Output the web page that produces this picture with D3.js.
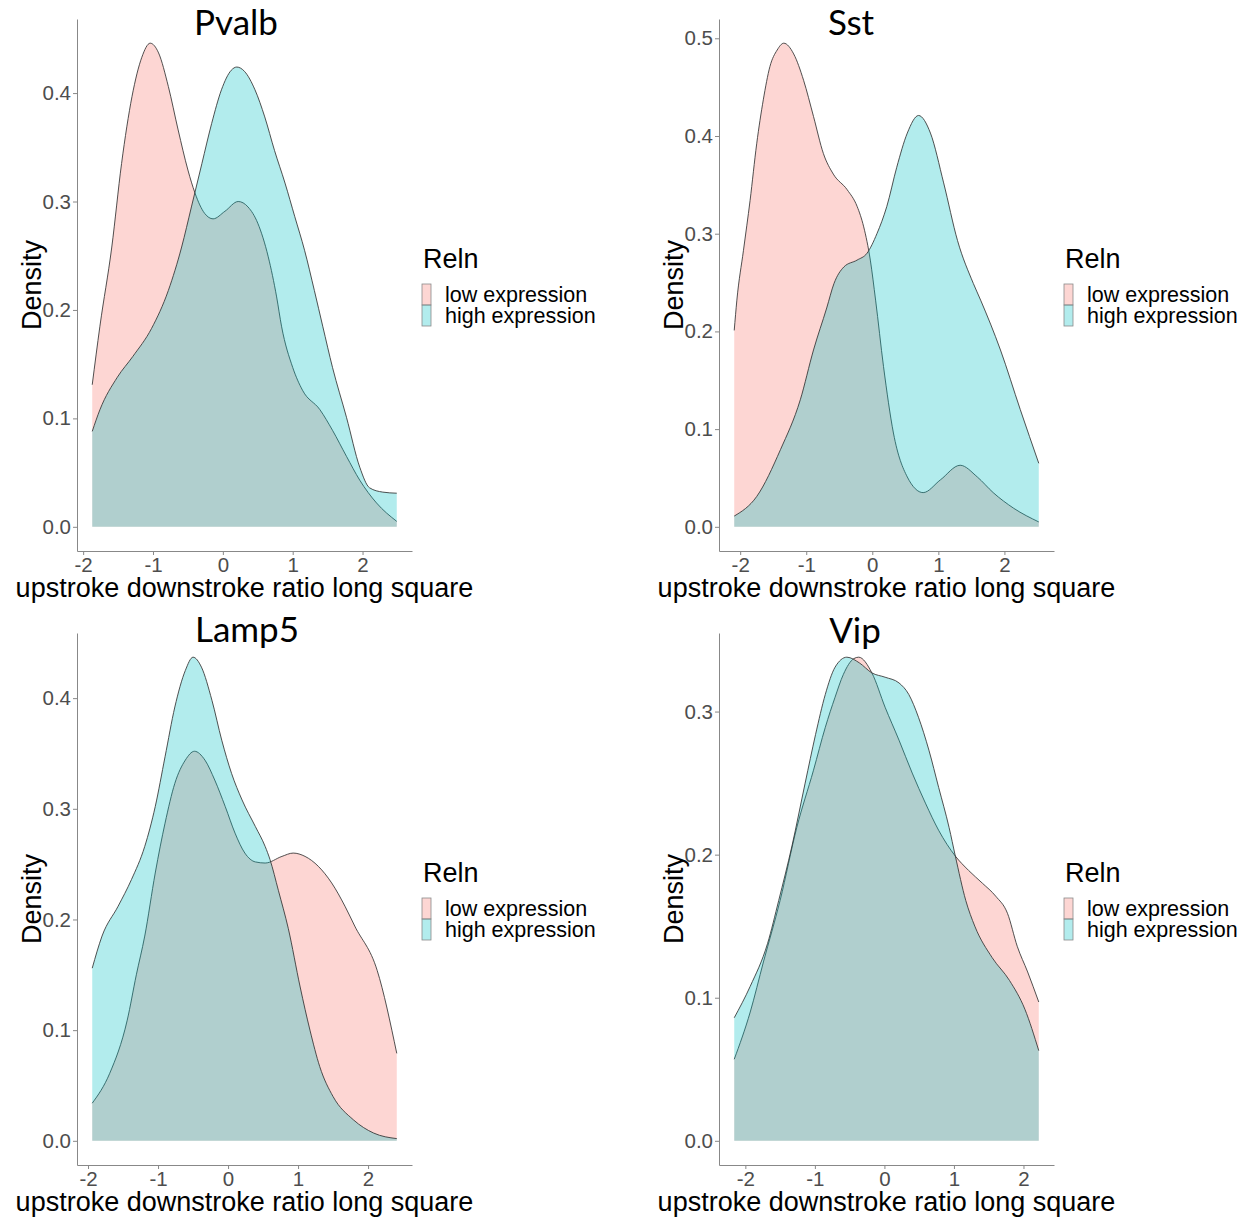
<!DOCTYPE html>
<html>
<head>
<meta charset="utf-8">
<script src="https://cdn.jsdelivr.net/npm/d3@7"></script>
<style>
    body { margin: 0; background: #fff; }
    svg text { font-family: "Liberation Sans", Arial, sans-serif; }
    .panel-title { font-family: Lato, sans-serif; }
</style>
</head>
<body>
<svg id="chart" width="1247" height="1217"></svg>
<script>
// panels and groups
var panels = ["Pvalb", "Sst", "Lamp5", "Vip"];
var groups = ["low expression", "high expression"];
var legendTitle = "Reln";
var xLabel = "upstroke downstroke ratio long square";
var yLabel = "Density";

// tick labels
var xTicks = [-2, -1, 0, 1, 2];
var pvalbYTicks = [0, 0.1, 0.2, 0.3, 0.4];
var sstYTicks = [0, 0.1, 0.2, 0.3, 0.4, 0.5];
var lamp5YTicks = [0, 0.1, 0.2, 0.3, 0.4];
var vipYTicks = [0, 0.1, 0.2, 0.3];

// density curves: [x, density]
var pvalbLow = [[-1.87,0.131],[-1.76,0.185],[-1.59,0.258],[-1.45,0.335],[-1.30,0.397],[-1.16,0.433],[-1.04,0.446],[-0.92,0.437],[-0.78,0.406],[-0.64,0.366],[-0.50,0.329],[-0.40,0.308],[-0.26,0.289],[-0.14,0.284],[0.03,0.291],[0.22,0.300],[0.36,0.295],[0.50,0.280],[0.65,0.249],[0.77,0.212],[0.84,0.185],[1.00,0.147],[1.14,0.126],[1.39,0.108],[1.57,0.089],[1.77,0.065],[1.96,0.043],[2.20,0.022],[2.49,0.005]];
var pvalbHigh = [[-1.87,0.088],[-1.76,0.108],[-1.51,0.138],[-1.29,0.157],[-1.02,0.183],[-0.78,0.218],[-0.59,0.258],[-0.45,0.295],[-0.30,0.335],[-0.16,0.372],[-0.02,0.403],[0.12,0.421],[0.20,0.424],[0.31,0.420],[0.46,0.403],[0.60,0.378],[0.74,0.347],[0.89,0.317],[1.03,0.286],[1.17,0.255],[1.31,0.218],[1.43,0.185],[1.57,0.147],[1.77,0.101],[1.96,0.055],[2.10,0.036],[2.29,0.032],[2.49,0.031]];

var sstLow = [[-2.09,0.201],[-2.05,0.232],[-1.95,0.283],[-1.85,0.334],[-1.75,0.392],[-1.65,0.437],[-1.55,0.471],[-1.44,0.488],[-1.34,0.495],[-1.19,0.484],[-1.04,0.457],[-0.89,0.420],[-0.74,0.382],[-0.59,0.361],[-0.38,0.345],[-0.23,0.328],[-0.13,0.307],[-0.03,0.273],[0.05,0.232],[0.17,0.164],[0.32,0.096],[0.53,0.051],[0.77,0.035],[1.03,0.048],[1.33,0.063],[1.59,0.051],[1.83,0.035],[2.14,0.019],[2.52,0.005]];
var sstHigh = [[-2.09,0.011],[-1.75,0.031],[-1.39,0.079],[-1.09,0.130],[-0.89,0.181],[-0.69,0.224],[-0.58,0.249],[-0.43,0.266],[-0.23,0.273],[-0.08,0.280],[0.07,0.300],[0.22,0.328],[0.37,0.368],[0.53,0.403],[0.70,0.421],[0.88,0.403],[1.08,0.352],[1.29,0.293],[1.53,0.249],[1.64,0.232],[1.94,0.181],[2.24,0.120],[2.52,0.065]];

var lamp5Low = [[-1.94,0.034],[-1.69,0.061],[-1.44,0.109],[-1.31,0.150],[-1.19,0.185],[-1.04,0.242],[-0.90,0.287],[-0.76,0.323],[-0.61,0.344],[-0.48,0.352],[-0.33,0.344],[-0.19,0.326],[-0.04,0.302],[0.10,0.278],[0.24,0.260],[0.39,0.252],[0.53,0.251],[0.77,0.257],[0.93,0.260],[1.10,0.257],[1.29,0.248],[1.48,0.233],[1.67,0.212],[1.81,0.194],[2.13,0.154],[2.41,0.079]];
var lamp5High = [[-1.94,0.156],[-1.80,0.185],[-1.57,0.212],[-1.38,0.236],[-1.19,0.266],[-1.04,0.302],[-0.90,0.347],[-0.76,0.392],[-0.61,0.425],[-0.50,0.437],[-0.38,0.428],[-0.23,0.398],[-0.09,0.362],[0.05,0.332],[0.20,0.308],[0.39,0.284],[0.53,0.266],[0.60,0.254],[0.72,0.226],[0.86,0.192],[1.03,0.139],[1.17,0.100],[1.31,0.067],[1.50,0.040],[1.79,0.019],[2.08,0.007],[2.41,0.002]];

var vipLow = [[-2.16,0.057],[-1.93,0.090],[-1.74,0.125],[-1.50,0.168],[-1.26,0.219],[-1.02,0.259],[-0.85,0.289],[-0.71,0.310],[-0.59,0.326],[-0.44,0.337],[-0.37,0.338],[-0.18,0.327],[0.01,0.303],[0.21,0.280],[0.40,0.257],[0.59,0.236],[0.78,0.217],[1.02,0.199],[1.21,0.189],[1.41,0.180],[1.60,0.171],[1.77,0.159],[1.91,0.136],[2.06,0.118],[2.22,0.097]];
var vipHigh = [[-2.16,0.086],[-1.93,0.108],[-1.68,0.138],[-1.52,0.168],[-1.33,0.206],[-1.14,0.250],[-0.99,0.284],[-0.85,0.312],[-0.71,0.331],[-0.54,0.338],[-0.36,0.334],[-0.18,0.327],[0.01,0.324],[0.21,0.320],[0.35,0.312],[0.49,0.296],[0.64,0.273],[0.78,0.247],[0.93,0.219],[1.02,0.199],[1.17,0.168],[1.30,0.150],[1.55,0.128],[1.80,0.112],[2.02,0.092],[2.22,0.063]];

// table used for drawing
var curves = {
    Pvalb: [pvalbLow, pvalbHigh],
    Sst: [sstLow, sstHigh],
    Lamp5: [lamp5Low, lamp5High],
    Vip: [vipLow, vipHigh]
};
var yTicks = {Pvalb: pvalbYTicks, Sst: sstYTicks, Lamp5: lamp5YTicks, Vip: vipYTicks};

// layout
var colors = ["#F8766D", "#00BFC4"];
var plotW = 335, plotH = 532;
var colX = [77, 719], rowY = [19, 633];
var titlePos = [[236, 35], [851, 35], [247, 642], [855, 643]];

var svg = d3.select("#chart");

// ggplot style 5% expansion
function expand(ext) {
    var r = ext[1] - ext[0];
    return [ext[0] - 0.05 * r, ext[1] + 0.05 * r];
}

panels.forEach(function (name, i) {
    var left = colX[i % 2], top = rowY[Math.floor(i / 2)];
    var data = curves[name];
    var all = data[0].concat(data[1]);

    var x = d3.scaleLinear()
        .domain(expand(d3.extent(all, function (d) { return d[0]; })))
        .range([left, left + plotW]);
    var y = d3.scaleLinear()
        .domain(expand([0, d3.max(all, function (d) { return d[1]; })]))
        .range([top + plotH, top]);

    var area = d3.area()
        .x(function (d) { return x(d[0]); })
        .y0(y(0))
        .y1(function (d) { return y(d[1]); })
        .curve(d3.curveMonotoneX);
    var line = d3.line()
        .x(function (d) { return x(d[0]); })
        .y(function (d) { return y(d[1]); })
        .curve(d3.curveMonotoneX);

    var g = svg.append("g");

    data.forEach(function (series, k) {
        g.append("path")
            .attr("d", area(series))
            .attr("fill", colors[k])
            .attr("fill-opacity", 0.3);
        g.append("path")
            .attr("d", line(series))
            .attr("fill", "none")
            .attr("stroke", "#333")
            .attr("stroke-opacity", 0.85)
            .attr("stroke-width", 1);
    });

    // axes
    var xAxis = g.append("g")
        .attr("transform", "translate(0," + (top + plotH) + ")")
        .call(d3.axisBottom(x).tickValues(xTicks).tickSize(4).tickSizeOuter(0).tickPadding(2)
            .tickFormat(function (d) { return String(d); }));
    var yAxis = g.append("g")
        .attr("transform", "translate(" + left + ",0)")
        .call(d3.axisLeft(y).tickValues(yTicks[name]).tickSize(4).tickSizeOuter(0).tickPadding(2)
            .tickFormat(d3.format(".1f")));

    [xAxis, yAxis].forEach(function (ax) {
        ax.select(".domain").attr("stroke", "#888");
        ax.selectAll(".tick line").attr("stroke", "#888");
        ax.selectAll(".tick text")
            .attr("fill", "#4d4d4d")
            .style("font-size", "20.5px")
            .style("font-family", "'Liberation Sans', Arial, sans-serif");
    });

    // axis titles
    g.append("text")
        .attr("x", left + plotW / 2)
        .attr("y", top + plotH + 46)
        .attr("text-anchor", "middle")
        .style("font-size", "27px")
        .attr("fill", "#000")
        .text(xLabel);
    g.append("text")
        .attr("transform", "translate(" + (left - 36) + "," + (top + plotH / 2) + ") rotate(-90)")
        .attr("text-anchor", "middle")
        .style("font-size", "27px")
        .attr("fill", "#000")
        .text(yLabel);

    // panel title
    g.append("text")
        .attr("class", "panel-title")
        .attr("x", titlePos[i][0])
        .attr("y", titlePos[i][1])
        .attr("text-anchor", "middle")
        .style("font-size", "35px")
        .attr("fill", "#000")
        .text(name);

    // legend
    var lg = g.append("g")
        .attr("transform", "translate(" + (left + 345) + "," + (top + 249) + ")");
    lg.append("text")
        .attr("x", 1)
        .attr("y", 0)
        .style("font-size", "27px")
        .attr("fill", "#000")
        .text(legendTitle);
    groups.forEach(function (grp, k) {
        lg.append("rect")
            .attr("x", 0)
            .attr("y", 16 + k * 21)
            .attr("width", 9)
            .attr("height", 21)
            .attr("fill", colors[k])
            .attr("fill-opacity", 0.3)
            .attr("stroke", "#8a8a8a")
            .attr("stroke-width", 0.8);
        lg.append("text")
            .attr("x", 23)
            .attr("y", 34 + k * 21)
            .style("font-size", "21.5px")
            .attr("fill", "#000")
            .text(grp);
    });
});
</script>
</body>
</html>
